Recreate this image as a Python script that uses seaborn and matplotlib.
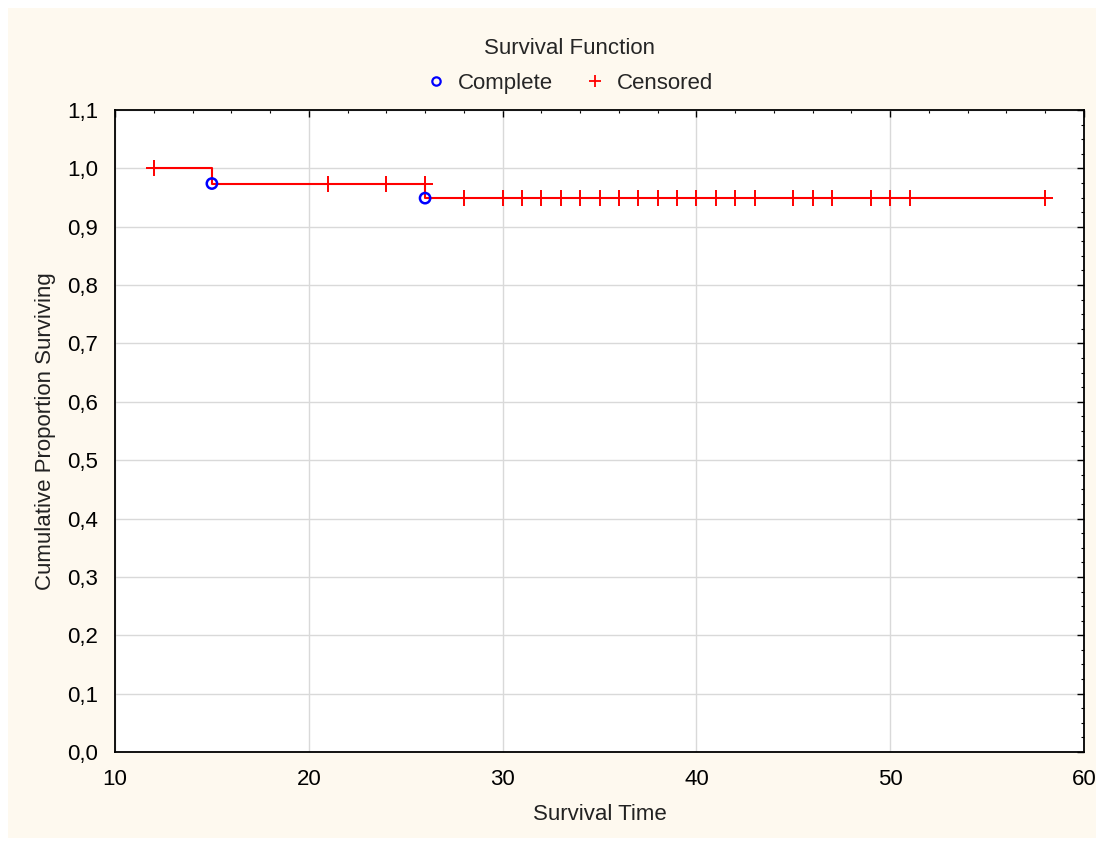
import matplotlib
matplotlib.use("Agg")
import matplotlib.pyplot as plt
from matplotlib.patches import Rectangle
from matplotlib.ticker import MultipleLocator, FuncFormatter
from matplotlib.lines import Line2D
import seaborn as sns
import pandas as pd

# survival step curve (time, cumulative proportion surviving)
step_time = [12, 15, 26, 58]
step_surv = [1.0, 0.974, 0.949, 0.949]

# complete (event) observations
complete_time = [15, 26]
complete_surv = [0.974, 0.949]

# censored observations
censored_time = [12, 21, 24, 26, 28, 30, 31, 32, 33, 34, 35, 36, 37, 38, 39,
                 40, 41, 42, 43, 45, 46, 47, 49, 50, 51, 58]
censored_surv = [1.0, 0.974, 0.974, 0.974] + [0.949] * 22

step_df = pd.DataFrame({"time": step_time, "surv": step_surv})
comp_df = pd.DataFrame({"time": complete_time, "surv": complete_surv})
cens_df = pd.DataFrame({"time": censored_time, "surv": censored_surv})

sns.set_style("white")
plt.rcParams["font.family"] = ["Liberation Sans", "DejaVu Sans"]
FS = 16

fig = plt.figure(figsize=(11.04, 8.46), dpi=100)
fig.patch.set_facecolor("white")
fig.patches.append(Rectangle((8 / 1104, 8 / 846), 1088 / 1104, 830 / 846,
                             transform=fig.transFigure, facecolor="#fef9ef",
                             edgecolor="none", zorder=-10))

ax = fig.add_axes([115 / 1104, 94 / 846, 969 / 1104, 642 / 846])
ax.set_facecolor("white")

sns.lineplot(data=step_df, x="time", y="surv", ax=ax, color="red",
             drawstyle="steps-post", linewidth=1.5, estimator=None, sort=False,
             zorder=3)
sns.scatterplot(data=cens_df, x="time", y="surv", ax=ax, marker="+",
                color="red", s=120, linewidth=1.4, zorder=4)
sns.scatterplot(data=comp_df, x="time", y="surv", ax=ax, marker="o",
                facecolor="none", edgecolor="blue", s=55, linewidth=1.8,
                zorder=5)

ax.set_xlim(10, 60)
ax.set_ylim(0.0, 1.1)
ax.xaxis.set_major_locator(MultipleLocator(10))
ax.xaxis.set_minor_locator(MultipleLocator(2))
ax.yaxis.set_major_locator(MultipleLocator(0.1))
ax.yaxis.set_minor_locator(MultipleLocator(0.025))
ax.yaxis.set_major_formatter(FuncFormatter(lambda v, p: f"{v:.1f}".replace(".", ",")))
ax.grid(True, which="major", color="#d9d9d9", linewidth=1.0)
ax.set_axisbelow(True)

ax.tick_params(which="both", direction="in", top=True, right=True,
               labelsize=FS, colors="black")
ax.tick_params(which="major", length=5, width=1)
ax.tick_params(which="minor", length=2.5, width=0.8)
ax.tick_params(axis="y", pad=12)
ax.tick_params(axis="x", pad=12)
for s in ax.spines.values():
    s.set_color("black")
    s.set_linewidth(1.3)

ax.set_xlabel("Survival Time", fontsize=FS, labelpad=10, color="#222222")
ax.set_ylabel("Cumulative Proportion Surviving", fontsize=FS, labelpad=8,
              color="#222222")

handles = [
    Line2D([], [], marker="o", linestyle="none", markerfacecolor="none",
           markeredgecolor="blue", markersize=6, markeredgewidth=1.6),
    Line2D([], [], marker="+", linestyle="none", color="red", markersize=9,
           markeredgewidth=1.3),
]
leg = fig.legend(handles, ["Complete", "Censored"], title="Survival Function",
                 loc="center", bbox_to_anchor=(569 / 1104, 1 - 66 / 846),
                 ncol=2, frameon=False, fontsize=FS, title_fontsize=FS,
                 handletextpad=0.5, columnspacing=1.4, handlelength=1.0,
                 borderpad=0.2, labelspacing=0.3)
leg._legend_box.sep = 10

fig.savefig("out.png", dpi=100, facecolor=fig.get_facecolor())
